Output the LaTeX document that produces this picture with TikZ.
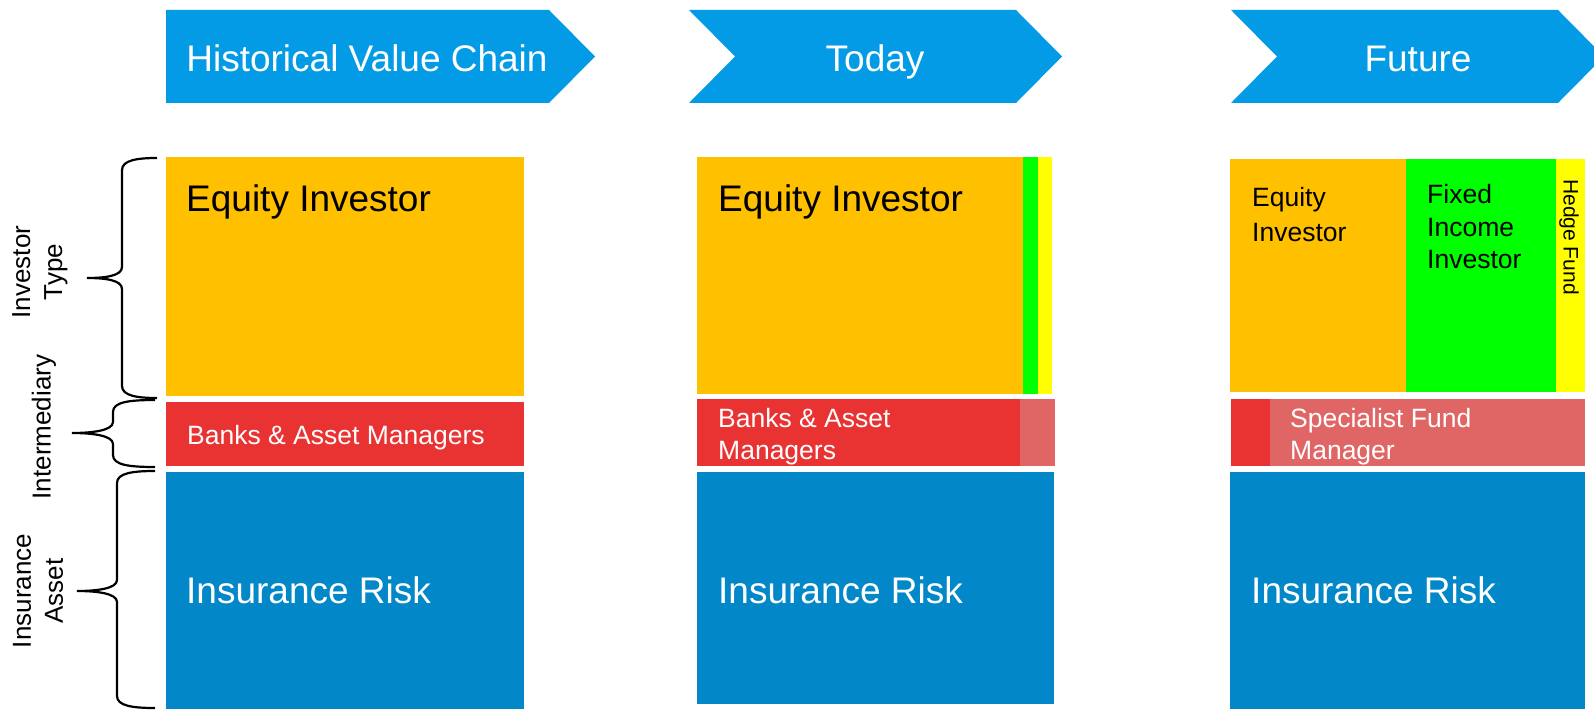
\documentclass[tikz,border=0pt]{standalone}
\usepackage{fontspec}
\setmainfont{Liberation Sans}
\usetikzlibrary{positioning}

\definecolor{chevblue}{RGB}{3,155,229}
\definecolor{riskblue}{RGB}{2,136,200}
\definecolor{gold}{RGB}{255,192,0}
\definecolor{bankred}{RGB}{233,51,50}
\definecolor{palered}{RGB}{224,102,102}
\definecolor{figreen}{RGB}{0,255,0}
\definecolor{hfyellow}{RGB}{255,255,0}

% curly brace on the left: top, tip y, bottom, end x, line x, tip x
\newcommand{\sidebrace}[6]{%
  \draw[brace line] (#4,#1) .. controls ({#5+16},#1) and (#5,{#1+2}) .. (#5,{#1+12})
    -- (#5,{#2-11}) .. controls (#5,{#2-2}) and ({#6+18},#2) .. (#6,#2)
    .. controls ({#6+18},#2) and (#5,{#2+2}) .. (#5,{#2+11})
    -- (#5,{#3-12}) .. controls (#5,{#3-2}) and ({#5+16},#3) .. (#4,#3);}

\begin{document}
\begin{tikzpicture}[x=1pt, y=-1pt,
    block/.style={rectangle, draw=none, inner sep=0pt, outer sep=0pt, anchor=north west},
    bigtxt/.style={inner sep=0pt, anchor=base west, font=\fontsize{37}{44}\selectfont},
    midtxt/.style={inner sep=0pt, anchor=base west, align=left, font=\fontsize{26.5}{32}\selectfont},
    sidetxt/.style={inner sep=0pt, rotate=90, align=center, font=\fontsize{26}{32}\selectfont},
    headtxt/.style={inner sep=0pt, anchor=base, text=white, font=\fontsize{37}{44}\selectfont},
    chevron/.style={fill=chevblue},
    brace line/.style={draw=black, line width=2.2pt}]
  \useasboundingbox (0,0) rectangle (1594,711);
  \clip (0,0) rectangle (1594,711);

  % chevrons
  \fill[chevron] (166,10) -- (549,10) -- (595,56.5) -- (549,103) -- (166,103) -- cycle;
  \fill[chevron] (689,10) -- (1016,10) -- (1062,56.5) -- (1016,103) -- (689,103) -- (735,56.5) -- cycle;
  \fill[chevron] (1231,10) -- (1558,10) -- (1604,56.5) -- (1558,103) -- (1231,103) -- (1277,56.5) -- cycle;
  \node[headtxt] (hist) at (367,72) {Historical Value Chain};
  \node[headtxt] (today) at (875,72) {Today};
  \node[headtxt] (future) at (1418,72) {Future};

  % historical column
  \node[block, fill=gold, minimum width=358pt, minimum height=239pt] (eqA) at (166,157) {};
  \node[block, fill=bankred, minimum width=358pt, minimum height=64pt] (bankA) at (166,402) {};
  \node[block, fill=riskblue, minimum width=358pt, minimum height=237pt] (riskA) at (166,472) {};
  \node[bigtxt] at (186,212) {Equity Investor};
  \node[midtxt, text=white] at (187,444) {Banks \& Asset Managers};
  \node[bigtxt, text=white] at (186,603) {Insurance Risk};

  % today column
  \node[block, fill=gold, minimum width=326pt, minimum height=237pt] (eqB) at (697,157) {};
  \node[block, fill=figreen, minimum width=15pt, minimum height=237pt] (fiB) at (1023,157) {};
  \node[block, fill=hfyellow, minimum width=14pt, minimum height=237pt] (hfB) at (1038,157) {};
  \node[block, fill=bankred, minimum width=323pt, minimum height=67pt] (bankB) at (697,399) {};
  \node[block, fill=palered, minimum width=35pt, minimum height=67pt] (sfB) at (1020,399) {};
  \node[block, fill=riskblue, minimum width=357pt, minimum height=232pt] (riskB) at (697,472) {};
  \node[bigtxt] at (718,212) {Equity Investor};
  \node[midtxt, text=white] at (718,459) {Banks \& Asset\\Managers};
  \node[bigtxt, text=white] at (718,603) {Insurance Risk};

  % future column
  \node[block, fill=gold, minimum width=176pt, minimum height=233pt] (eqC) at (1230,159) {};
  \node[block, fill=figreen, minimum width=150pt, minimum height=233pt] (fiC) at (1406,159) {};
  \node[block, fill=hfyellow, minimum width=29pt, minimum height=233pt] (hfC) at (1556,159) {};
  \node[block, fill=bankred, minimum width=40pt, minimum height=67pt] (bankC) at (1231,399) {};
  \node[block, fill=palered, minimum width=315pt, minimum height=67pt] (sfC) at (1270,399) {};
  \node[block, fill=riskblue, minimum width=355pt, minimum height=237pt] (riskC) at (1230,472) {};
  \node[midtxt, font=\fontsize{26.5}{35}\selectfont] at (1252,242) {Equity\\Investor};
  \node[midtxt] at (1427,268) {Fixed\\Income\\Investor};
  \node[inner sep=0pt, rotate=-90, anchor=west, font=\fontsize{21}{25}\selectfont] at (1569,179) {Hedge Fund};
  \node[midtxt, text=white] at (1290,459) {Specialist Fund\\Manager};
  \node[bigtxt, text=white] at (1251,603) {Insurance Risk};

  % braces and side labels
  \sidebrace{158}{278}{398}{157}{122}{87}
  \sidebrace{400}{433}{467}{155}{113}{72}
  \sidebrace{471}{591}{708}{155}{117}{77}
  \node[sidetxt] (invtype) at (40,272) {Investor\\Type};
  \node[sidetxt] (interm) at (44,427) {Intermediary};
  \node[sidetxt] (insasset) at (38,591) {Insurance\\Asset};
\end{tikzpicture}
\end{document}
